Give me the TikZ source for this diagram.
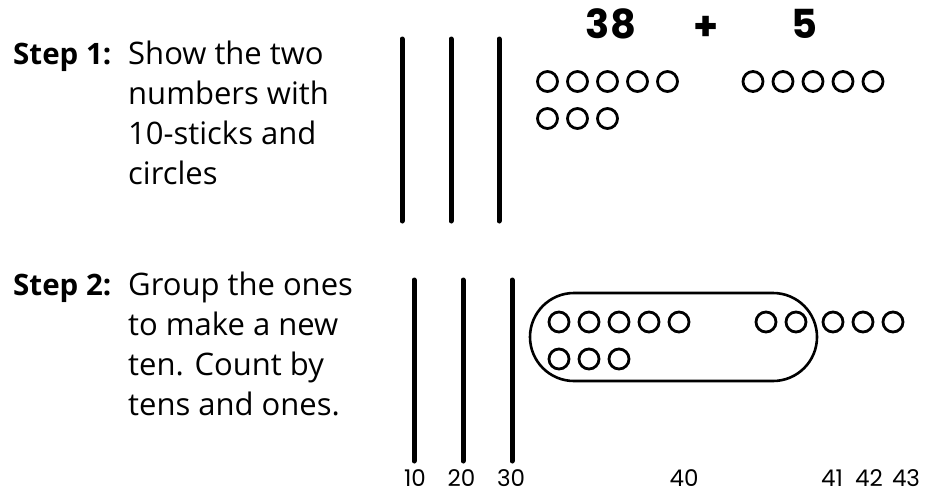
\documentclass[tikz,border=0pt]{standalone}
\usepackage{fontspec}
\setmainfont{Open Sans}
\newfontfamily\numfont{Poppins}
\begin{document}
\begin{tikzpicture}[x=1pt,y=-1pt,
  txt/.style={anchor=base west,inner sep=0pt,font=\fontsize{31}{40}\selectfont},
  steplbl/.style={anchor=base west,inner sep=0pt,font=\fontsize{29.5}{40}\selectfont\bfseries},
  ring/.style={draw,circle,line width=2.8pt,minimum size=20pt,inner sep=0pt},
  stick/.style={line width=5pt,line cap=round},
  bignum/.style={inner sep=0pt,font=\numfont\bfseries\fontsize{40}{42}\selectfont},
  cnt/.style={anchor=base,inner sep=0pt,font=\numfont\fontsize{23}{24}\selectfont}]
\useasboundingbox (0,0) rectangle (931,493);
% Step 1 text
\node[steplbl] (st1) at (13,64) {Step 1:};
\node[txt] (t1a) at (128,64) {Show the two};
\node[txt] (t1b) at (128,104) {numbers with};
\node[txt] (t1c) at (128,144) {10-sticks and};
\node[txt] (t1d) at (128,184) {circles};
% Step 2 text
\node[steplbl] (st2) at (13,295) {Step 2:};
\node[txt] (t2a) at (128,295) {Group the ones};
\node[txt] (t2b) at (128,335) {to make a new};
\node[txt] (t2c) at (128,375) {ten. Count by};
\node[txt] (t2d) at (128,415) {tens and ones.};
% Step 1 sticks
\foreach \x in {402,451,499} \draw[stick] (\x,39) -- (\x,221);
% 38 + 5
\node[bignum] (n38) at (611,24) {38};
\node[bignum] (plus) at (706,28) {+};
\node[bignum] (n5) at (804,24) {5};
% Step 1 circles
\foreach \x [count=\i] in {547.5,577.5,607.5,637.5,667.5} \node[ring] (a\i) at (\x,81.5) {};
\foreach \x [count=\i] in {547.5,577.5,607.5} \node[ring] (b\i) at (\x,118.5) {};
\foreach \x [count=\i] in {753,783,813,843,873} \node[ring] (c\i) at (\x,81.5) {};
% Step 2 sticks
\foreach \x in {414,463,512} \draw[stick] (\x,280) -- (\x,461);
% Step 2 circles
\foreach \x [count=\i] in {559,589,619,649,679,766,796,833,863,893} \node[ring] (d\i) at (\x,322) {};
\foreach \x [count=\i] in {559,589,619} \node[ring] (e\i) at (\x,359) {};
% group loop
\draw[line width=2.6pt,rounded corners=44pt] (530,293) rectangle (817,381);
% counting labels
\node[cnt] (l10) at (415,486) {10};
\node[cnt] (l20) at (461.5,486) {20};
\node[cnt] (l30) at (511,486) {30};
\node[cnt] (l40) at (684,486) {40};
\node[cnt] (l41) at (832,486) {41};
\node[cnt] (l42) at (869,486) {42};
\node[cnt] (l43) at (906,486) {43};
\end{tikzpicture}
\end{document}
